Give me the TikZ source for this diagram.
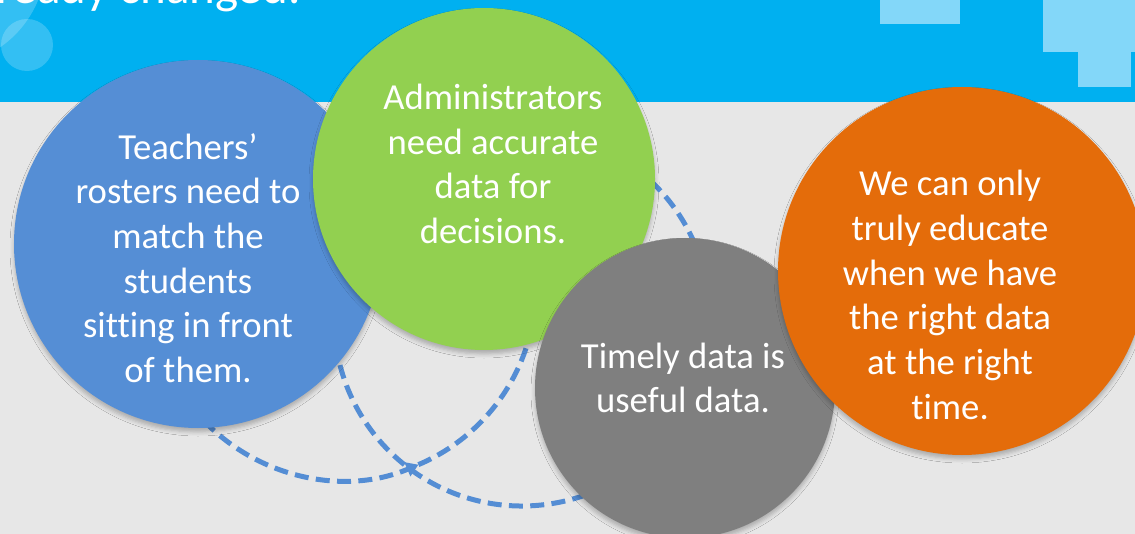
\documentclass[tikz,border=0pt]{standalone}
\usepackage{fontspec}
\setmainfont{Carlito}[Ligatures=NoCommon,Contextuals=NoAlternate]
\usetikzlibrary{arrows.meta,shadows.blur}
\definecolor{bandblue}{RGB}{0,176,240}
\definecolor{paleblue}{RGB}{131,215,249}
\definecolor{slidegray}{RGB}{231,231,231}
\definecolor{rosterblue}{RGB}{85,142,213}
\definecolor{admingreen}{RGB}{146,208,80}
\definecolor{timegray}{RGB}{127,127,127}
\definecolor{eduorange}{RGB}{228,108,10}
\definecolor{cycleblue}{RGB}{84,141,212}
\begin{document}
\begin{tikzpicture}[x=0.75pt,y=0.75pt,yscale=-1,xscale=1,
  bubble/.style={circle,inner sep=0pt,minimum size=#1,
    blur shadow={shadow xshift=0pt,shadow yshift=-3pt,shadow blur radius=3pt,shadow opacity=25}},
  txt/.style={text=white,align=center,inner sep=0pt,font=\fontsize{27.5}{33.5}\selectfont},
  cycleline/.style={draw=cycleblue,line width=3.75pt,dash pattern=on 10.5pt off 5.5pt}]
\useasboundingbox (0,0) rectangle (1135,534);
\clip (0,0) rectangle (1135,534);
% slide background
\fill[slidegray] (0,102) rectangle (1135,534);
\fill[bandblue] (0,0) rectangle (1135,102);
\fill[white,opacity=0.2] (-60,-40) circle [radius=106];
\fill[white,opacity=0.2] (27,45) circle [radius=26];
\fill[paleblue] (880,0) rectangle (960,24);
\fill[paleblue] (1043,0) rectangle (1135,52);
\fill[paleblue] (1078,52) rectangle (1131,87);
\node[anchor=base west,inner sep=0pt,text=white,font=\fontsize{36.75}{44}\selectfont] (heading) at (-4,4) {ready changed.};
% dashed cycles behind the circles
\coordinate (cyclea) at (343,287);
\coordinate (cycleb) at (522,318);
\draw[cycleline,-{Triangle[length=9pt,width=11pt]}] (cyclea) ++(136:193) arc [start angle=136,end angle=67,radius=193];
\draw[cycleline] (cyclea) ++(67:193) arc [start angle=67,end angle=12,radius=193];
\draw[cycleline] (cycleb) ++(172:188) arc [start angle=172,end angle=-52,radius=188];
% circles
\node[bubble=276pt,fill=rosterblue] (roster) at (198,244) {};
\node[bubble=256.5pt,fill=admingreen] (admin) at (484,179) {};
\node[bubble=225pt,fill=timegray] (timely) at (685,388) {};
\node[bubble=276pt,fill=eduorange] (educate) at (962,271) {};
\node[txt] (roster-text) at (188,258) {Teachers’\\rosters need to\\match the\\students\\sitting in front\\of them.};
\node[txt] (admin-text) at (493,164) {Administrators\\need accurate\\data for\\decisions.};
\node[txt] (timely-text) at (683,378) {Timely data is\\useful data.};
\node[txt] (educate-text) at (950,295) {We can only\\truly educate\\when we have\\the right data\\at the right\\time.};
\end{tikzpicture}
\end{document}
